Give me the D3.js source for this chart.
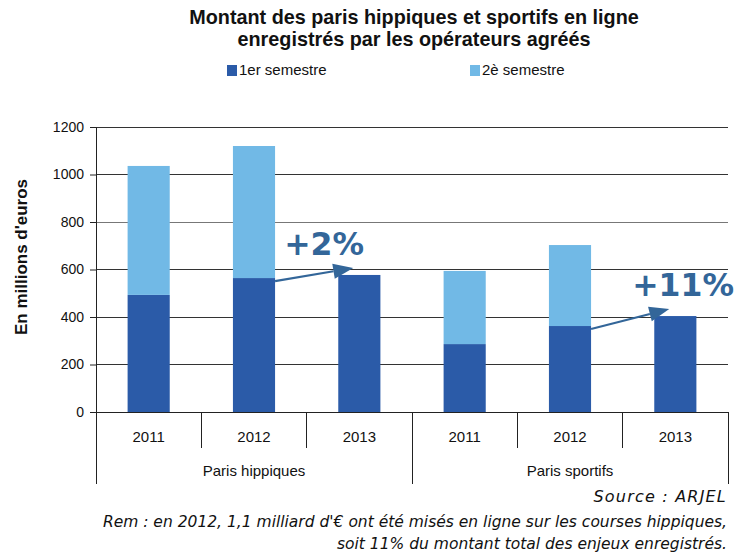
<!DOCTYPE html>
<html><head><meta charset="utf-8">
<script src="https://cdn.jsdelivr.net/npm/d3@7"></script>
<style>body{margin:0;background:#fff}svg{display:block}</style>
</head><body><svg id="c" width="747" height="556"></svg>
<script>
const groups = ["Paris hippiques", "Paris sportifs"];
const years = ["2011", "2012", "2013"];
const sem1 = [493, 564, 577, 286, 362, 404];
const sem2 = [543, 556, 0, 308, 341, 0];
const yTicks = [0, 200, 400, 600, 800, 1000, 1200];
const seriesNames = ["1er semestre", "2è semestre"];
const colors = ["#2B5BA8", "#71B9E6"];
const growthLabels = ["+2%", "+11%"];
const growthFrom = [1, 4];
const growthTo = [2, 5];

const svg = d3.select("#c");
const m = {l: 96, r: 728, t: 127, b: 412};
const cats = [];
groups.forEach((g, gi) => years.forEach((yv, yi) => cats.push({g, yv, i: gi * 3 + yi})));
const x = d3.scaleBand().domain(cats.map(d => d.i)).range([m.l, m.r]).paddingInner(0.6).paddingOuter(0.3);
const y = d3.scaleLinear().domain([0, 1200]).range([m.b, m.t]);
const arial = "'Liberation Sans',Arial,sans-serif";
const verdana = "'DejaVu Sans',Verdana,sans-serif";

// title
["Montant des paris hippiques et sportifs en ligne", "enregistrés par les opérateurs agréés"].forEach((t, i) =>
  svg.append("text").attr("x", 414).attr("y", 24 + i * 22).attr("text-anchor", "middle")
    .attr("font-family", arial).attr("font-weight", "bold").attr("font-size", 19.8).attr("fill", "#111").text(t));

// legend
const lx = [227, 470];
seriesNames.forEach((n, i) => {
  svg.append("rect").attr("x", lx[i]).attr("y", 65).attr("width", 10).attr("height", 11).attr("fill", colors[i]);
  svg.append("text").attr("x", lx[i] + 12).attr("y", 75).attr("font-family", arial).attr("font-size", 15).attr("fill", "#111").text(n);
});

// gridlines
svg.append("g").selectAll("line").data(yTicks).join("line")
  .attr("x1", m.l).attr("x2", m.r).attr("y1", d => y(d)).attr("y2", d => y(d))
  .attr("stroke", d => d === 800 ? "#777" : "#333").attr("stroke-width", 1).attr("shape-rendering", "crispEdges");

// y axis
const ya = svg.append("g").attr("transform", `translate(${m.l},0)`)
  .call(d3.axisLeft(y).tickValues(yTicks).tickSize(6).tickPadding(6).tickFormat(d3.format("d")));
ya.select(".domain").attr("stroke", "#222");
ya.selectAll(".tick line").attr("stroke", "#222");
ya.selectAll("text").attr("font-family", arial).attr("font-size", 14).attr("fill", "#111");

svg.append("text").attr("transform", "translate(27,257) rotate(-90)").attr("text-anchor", "middle")
  .attr("font-family", arial).attr("font-weight", "bold").attr("font-size", 17).attr("fill", "#111")
  .text("En millions d'euros");

// bars
const stackData = cats.map(c => ({i: c.i, s1: sem1[c.i], s2: sem2[c.i]}));
const stacked = d3.stack().keys(["s1", "s2"])(stackData);
svg.append("g").selectAll("g").data(stacked).join("g").attr("fill", (d, i) => colors[i])
  .selectAll("rect").data(d => d).join("rect")
  .attr("x", d => x(d.data.i)).attr("width", x.bandwidth())
  .attr("y", d => y(d[1])).attr("height", d => y(d[0]) - y(d[1]));

// x axis with categories
const step = x.step();
const catX = i => m.l + i * step;
svg.append("line").attr("x1", m.l).attr("x2", m.r).attr("y1", m.b).attr("y2", m.b).attr("stroke", "#222").attr("shape-rendering", "crispEdges");
svg.append("g").selectAll("line").data(d3.range(0, 7)).join("line")
  .attr("x1", i => catX(i)).attr("x2", i => catX(i)).attr("y1", m.b)
  .attr("y2", i => i % 3 === 0 ? 484 : 448).attr("stroke", "#222").attr("shape-rendering", "crispEdges");
svg.append("g").selectAll("text").data(cats).join("text")
  .attr("x", d => x(d.i) + x.bandwidth() / 2).attr("y", 442).attr("text-anchor", "middle")
  .attr("font-family", arial).attr("font-size", 15).attr("fill", "#111").text(d => d.yv);
svg.append("g").selectAll("text").data(groups).join("text")
  .attr("x", (d, i) => catX(i * 3 + 1.5)).attr("y", 476).attr("text-anchor", "middle")
  .attr("font-family", arial).attr("font-size", 15).attr("fill", "#111").text(d => d);

// growth annotations
const ann = "#336699";
const textEnd = [[364, 255], [734, 296]];
growthLabels.forEach((lab, k) => {
  const f = growthFrom[k], t = growthTo[k];
  const x1 = x(f) + x.bandwidth(), y1 = y(sem1[f]) + 3;
  const x2 = x(t) + 15, y2 = y(sem1[t]) - 7;
  const ang = Math.atan2(y2 - y1, x2 - x1);
  const L = 20, W = 7.5;
  const bx = x2 - L * Math.cos(ang), by = y2 - L * Math.sin(ang);
  svg.append("line").attr("x1", x1).attr("y1", y1).attr("x2", bx).attr("y2", by)
    .attr("stroke", ann).attr("stroke-width", 2.2);
  svg.append("path").attr("fill", ann)
    .attr("d", `M${x2},${y2}L${bx - W * Math.sin(ang)},${by + W * Math.cos(ang)}L${bx + W * Math.sin(ang)},${by - W * Math.cos(ang)}Z`);
  svg.append("text").attr("x", textEnd[k][0]).attr("y", textEnd[k][1]).attr("text-anchor", "end")
    .attr("font-family", verdana).attr("font-weight", "bold").attr("font-size", 31.5)
    .attr("fill", ann).text(lab);
});

// notes
const notes = ["Source : ARJEL", "Rem : en 2012, 1,1 milliard d'€ ont été misés en ligne sur les courses hippiques,", "soit 11% du montant total des enjeux enregistrés."];
const ny = [502, 527, 549];
notes.forEach((t, i) => svg.append("text").attr("x", 727).attr("y", ny[i]).attr("text-anchor", "end")
  .attr("font-family", verdana).attr("font-style", "italic").attr("font-size", i === 0 ? 16 : 15.5)
  .attr("letter-spacing", i === 0 ? 1.2 : 0).attr("fill", "#111").text(t));
</script></body></html>
